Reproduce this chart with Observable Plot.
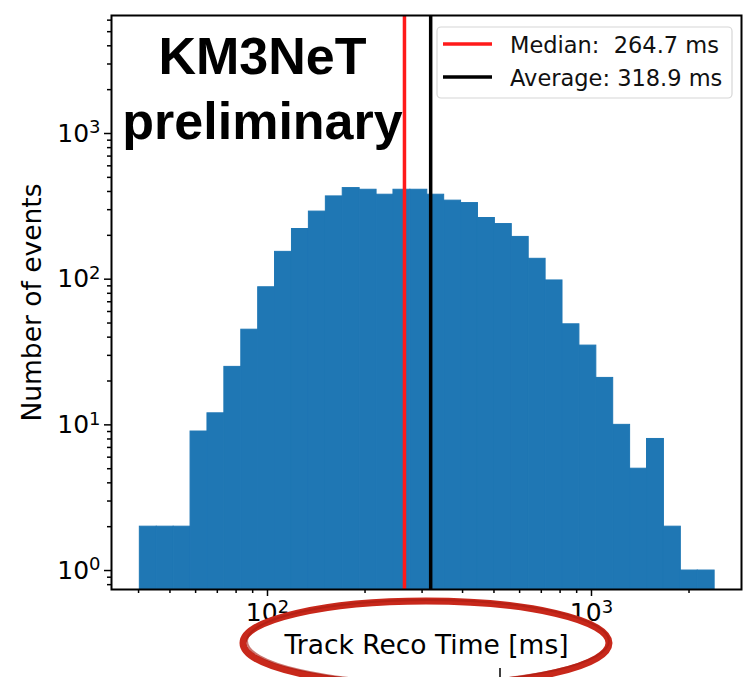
<!DOCTYPE html>
<html><head><meta charset="utf-8">
<script src="https://cdn.jsdelivr.net/npm/d3@7"></script>
<script src="https://cdn.jsdelivr.net/npm/@observablehq/plot@0.6"></script>
<style>
body{margin:0;background:#fff;}
#chart{position:relative;width:752px;height:677px;}
</style></head><body><div id="chart"></div>
<script>
// Histogram bin edges (ms) and counts
const binEdges = [40.36, 45.52, 51.33, 57.88, 65.27, 73.60, 83.01, 93.60, 105.5, 119.0, 134.2, 151.4, 170.7, 192.5, 217.1, 244.8, 276.0, 311.3, 351.0, 395.8, 446.3, 503.3, 567.5, 640.0, 721.7, 813.8, 917.7, 1034.9, 1166.8, 1315.8, 1483.8, 1673.2, 1886.8, 2127.7, 2399.3];
const counts = [2, 2, 2, 9, 12, 25, 45, 88, 154, 221, 291, 370, 422, 411, 380, 411, 411, 380, 346, 333, 263, 239, 195, 138, 98, 49, 35, 21, 10, 5, 8, 2, 1, 1];
const medianMs = 264.7;
const averageMs = 318.9;
const legendLabels = ["Median:  264.7 ms", "Average: 318.9 ms"];
const legendColors = ["#ff1a1a", "#000000"];
const xMajorTicks = [100, 1000];
const xMinorTicks = [40, 50, 60, 70, 80, 90, 200, 300, 400, 500, 600, 700, 800, 900, 2000];
const yMajorTicks = [1, 10, 100, 1000];
const yMinorTicks = [0.8, 0.9, 2, 3, 4, 5, 6, 7, 8, 9, 20, 30, 40, 50, 60, 70, 80, 90, 200, 300, 400, 500, 600, 700, 800, 900, 2000, 3000, 4000, 5000, 6000];
const xDomain = [33, 2904];
const yDomain = [0.741, 6457];
const xLabel = "Track Reco Time [ms]";
const yLabel = "Number of events";
const stampLines = ["KM3NeT", "preliminary"];

const fmt = d => "10^" + Math.round(Math.log10(d));

const bins = counts.map((c, i) => ({x1: binEdges[i], x2: binEdges[i + 1], n: c}));
const blue = "#1f77b4";

const plot = Plot.plot({
  width: 752, height: 677,
  marginLeft: 111, marginRight: 11, marginTop: 15, marginBottom: 88,
  style: {fontFamily: "DejaVu Sans, sans-serif", fontSize: "25px", background: "white", color: "black"},
  x: {type: "log", domain: xDomain},
  y: {type: "log", domain: yDomain},
  marks: [
    Plot.rect(bins, {x1: "x1", x2: "x2", y1: yDomain[0], y2: "n", fill: blue, stroke: blue, strokeWidth: 1, inset: 0, clip: true}),
    Plot.ruleX([medianMs], {stroke: legendColors[0], strokeWidth: 3.5}),
    Plot.ruleX([averageMs], {stroke: legendColors[1], strokeWidth: 3.5}),
    Plot.text([stampLines[0]], {text: d => d, frameAnchor: "top-left", dx: 151, dy: 58, textAnchor: "middle", lineAnchor: "bottom", fontFamily: "Liberation Sans, Arial, sans-serif", fontWeight: "bold", fontSize: 52, fill: "black"}),
    Plot.text([stampLines[1]], {text: d => d, frameAnchor: "top-left", dx: 151, dy: 123, textAnchor: "middle", lineAnchor: "bottom", fontFamily: "Liberation Sans, Arial, sans-serif", fontWeight: "bold", fontSize: 52, fill: "black"}),
    Plot.axisX({ticks: xMinorTicks, tickSize: 4, text: null, strokeWidth: 1.5, label: null}),
    Plot.axisX({ticks: xMajorTicks, tickFormat: fmt, tickSize: 7, tickPadding: 7, strokeWidth: 1.5, fontSize: 25,
      label: xLabel, labelAnchor: "center", labelArrow: "none", labelOffset: 64}),
    Plot.axisY({ticks: yMinorTicks, tickSize: 4, text: null, strokeWidth: 1.5, label: null}),
    Plot.axisY({ticks: yMajorTicks, tickFormat: fmt, tickSize: 7, tickPadding: 4, strokeWidth: 1.5, fontSize: 25,
      label: yLabel, labelAnchor: "center", labelArrow: "none", labelOffset: 89}),
    Plot.frame({stroke: "black", strokeWidth: 2})
  ]
});
document.getElementById("chart").appendChild(plot);

const svg = d3.select(plot);

// Axis titles slightly larger than tick labels
svg.selectAll('g[aria-label="x-axis label"], g[aria-label="y-axis label"]').attr("font-size", 26.5);

// Render "10^n" tick labels with a raised superscript exponent (mathtext style)
svg.selectAll("text").each(function () {
  const t = d3.select(this);
  const tsp = t.selectAll("tspan");
  const nodes = tsp.empty() ? [this] : tsp.nodes();
  nodes.forEach(n => {
    const s = n.textContent;
    const m = /^10\^(\d)$/.exec(s);
    if (!m) return;
    const el = d3.select(n);
    el.text("10");
    el.append("tspan").attr("font-size", "0.72em").attr("dy", "-0.45em").text(m[1]);
  });
});

// Legend box (upper right)
const lg = svg.append("g").attr("text-anchor", "start");
lg.append("rect").attr("x", 437).attr("y", 27).attr("width", 295).attr("height", 71).attr("rx", 4)
  .attr("fill", "white").attr("fill-opacity", 0.85).attr("stroke", "#d6d6d6").attr("stroke-width", 1.2);
legendLabels.forEach((t, i) => {
  const yc = 44 + i * 33;
  lg.append("line").attr("x1", 443).attr("x2", 492).attr("y1", yc).attr("y2", yc)
    .attr("stroke", legendColors[i]).attr("stroke-width", 3.5);
  lg.append("text").attr("x", 510).attr("y", yc + 9).attr("font-size", 22.5)
    .attr("font-family", "DejaVu Sans, sans-serif").attr("fill", "#111").style("white-space", "pre").text(t);
});

// Hand-drawn red ellipse annotation around the x-axis label
const ann = svg.append("g").attr("fill", "none");
ann.append("ellipse").attr("cx", 426).attr("cy", 643).attr("rx", 183).attr("ry", 42)
  .attr("stroke", "#c8281b").attr("stroke-width", 7);
ann.append("ellipse").attr("cx", 428).attr("cy", 641).attr("rx", 181).attr("ry", 41)
  .attr("stroke", "#a81c12").attr("stroke-width", 2).attr("stroke-opacity", 0.6);
svg.append("line").attr("x1", 500).attr("x2", 500).attr("y1", 668).attr("y2", 677)
  .attr("stroke", "black").attr("stroke-width", 1.5);
</script></body></html>
